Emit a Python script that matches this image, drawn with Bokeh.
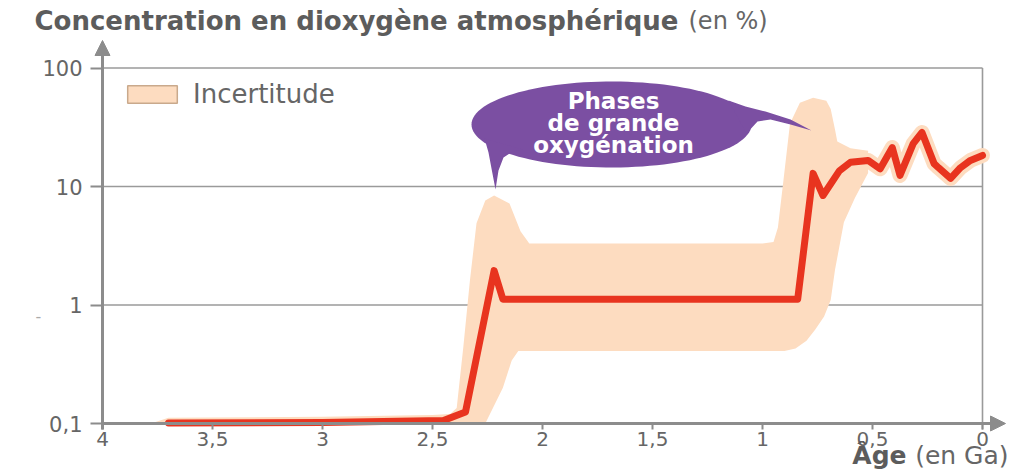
import numpy as np
from bokeh.plotting import figure
from bokeh.models import (Range1d, FixedTicker, CustomJSTickFormatter, Label, Arrow,
                          NormalHead, Legend, LegendItem)
from bokeh.embed import file_html
from bokeh.resources import INLINE

# ---------------- data ----------------
x_ticks = [4, 3.5, 3, 2.5, 2, 1.5, 1, 0.5, 0]
y_ticks = [0.1, 1, 10, 100]

age_ga = [3.7, 3.0, 2.45, 2.35, 2.22, 2.18, 0.84, 0.77, 0.725, 0.65, 0.60, 0.52,
          0.465, 0.41, 0.375, 0.315, 0.275, 0.22, 0.20, 0.145, 0.10, 0.055, 0.0]
o2_pct = [0.101, 0.102, 0.106, 0.125, 1.95, 1.12, 1.12, 12.9, 8.4, 13.6, 16.0, 16.6,
          14.1, 21.3, 12.4, 23.0, 28.6, 15.6, 14.4, 11.7, 14.4, 16.6, 18.3]

band_upper_age = [3.78, 3.7, 3.0, 2.5, 2.42, 2.39, 2.36, 2.33, 2.30, 2.26, 2.22, 2.15,
                  2.10, 2.06, 1.0, 0.95, 0.93, 0.905, 0.875, 0.83, 0.77, 0.71, 0.69,
                  0.67, 0.66, 0.60, 0.52]
band_upper_pct = [0.1, 0.112, 0.114, 0.118, 0.12, 0.135, 0.44, 1.6, 4.9, 7.6, 8.4, 7.2,
                  4.2, 3.3, 3.3, 3.4, 4.5, 11.2, 34, 51, 56, 53, 45,
                  30, 24, 21, 20]
band_lower_age = [2.26, 2.18, 2.14, 2.11, 0.90, 0.85, 0.80, 0.76, 0.72, 0.69, 0.67,
                  0.63, 0.58, 0.52]
band_lower_pct = [0.1, 0.2, 0.34, 0.41, 0.41, 0.43, 0.5, 0.62, 0.8, 1.1, 2.0,
                  5.0, 8.0, 13.0]

# ---------------- style ----------------
BAND = "#fddcc0"
RED = "#e8341f"
GREY = "#8c8c8c"
TXT = "#666666"
DARK = "#5c5c5c"
PURPLE = "#7b4fa2"
FONT = "DejaVu Sans"

W, H = 1010, 470
X0_PX, PX_PER_GA = 982, 220.0       # page x of age 0, pixels per Ga
Y01_PX, PX_PER_DEC = 423, 118.5     # page y of 0.1 %, pixels per decade

def gx(px):
    return (X0_PX - px) / PX_PER_GA

def gy(py):
    return 10 ** ((Y01_PX - py) / PX_PER_DEC - 1)

p = figure(width=W, height=H,
           x_range=Range1d(gx(0), gx(W)), y_range=Range1d(gy(H), gy(0)),
           y_axis_type="log", output_backend="svg", toolbar_location=None,
           min_border=0)
p.outline_line_color = None
p.xgrid.visible = False
p.ygrid.visible = False

# grid lines (at the y ticks) and right border at age 0
gl = y_ticks[1:]
p.segment(x0=[x_ticks[0]] * len(gl), y0=gl, x1=[x_ticks[-1]] * len(gl), y1=gl,
          line_color="#9a9a9a", line_width=1.6)
p.segment(x0=[x_ticks[-1]], y0=[gy(429)], x1=[x_ticks[-1]], y1=[y_ticks[-1]],
          line_color="#9a9a9a", line_width=1.6)

# uncertainty band
bx = band_upper_age + band_lower_age[::-1]
by = band_upper_pct + band_lower_pct[::-1]
p.patch(bx, by, fill_color=BAND, line_color=None)
k = age_ga.index(0.725)
p.line(age_ga[k:], o2_pct[k:], line_color=BAND, line_width=15, line_join="round",
       line_cap="round")
p.line(age_ga, o2_pct, line_color=RED, line_width=7, line_join="round", line_cap="round")

# legend
dummy = p.quad(left=[np.nan], right=[np.nan], top=[np.nan], bottom=[np.nan],
               fill_color=BAND, line_color="#c9a98c", line_width=1.5)
legend = Legend(items=[LegendItem(label="Incertitude", renderers=[dummy])],
                location=(121, H - 109), glyph_width=62, glyph_height=22,
                label_standoff=10, padding=0, margin=0, spacing=0,
                border_line_color=None, background_fill_alpha=0,
                label_text_font=FONT, label_text_font_size="26px",
                label_text_color=TXT)
p.add_layout(legend)

# axes placed at fixed data locations inside the frame
p.xaxis.fixed_location = y_ticks[0]
p.yaxis.fixed_location = x_ticks[0]
for ax in (p.xaxis[0], p.yaxis[0]):
    ax.axis_line_color = None
    ax.major_tick_line_color = GREY
    ax.major_tick_line_width = 2
    ax.major_tick_in = 0
    ax.minor_tick_line_color = None
    ax.major_label_text_font = FONT
    ax.major_label_text_color = TXT
    ax.formatter = CustomJSTickFormatter(code="return String(tick).replace('.', ',');")
p.xaxis.major_label_text_font_size = "20px"
p.yaxis.major_label_text_font_size = "21px"
p.xaxis.ticker = FixedTicker(ticks=x_ticks)
p.yaxis.ticker = FixedTicker(ticks=y_ticks)
p.xaxis.major_tick_out = 6
p.xaxis.major_label_standoff = 2
p.yaxis.major_tick_out = 12
p.yaxis.major_label_standoff = 8

# axis lines with arrow heads
p.add_layout(Arrow(end=NormalHead(size=15, fill_color=GREY, line_color=GREY),
                   x_start=x_ticks[0], y_start=y_ticks[0], x_end=gx(1005), y_end=y_ticks[0],
                   line_color=GREY, line_width=3))
p.add_layout(Arrow(end=NormalHead(size=15, fill_color=GREY, line_color=GREY),
                   x_start=x_ticks[0], y_start=gy(429), x_end=x_ticks[0], y_end=gy(40),
                   line_color=GREY, line_width=3))

# speech bubble
cx, cly, a, b = gx(611), np.log10(gy(124)), 140 / PX_PER_GA, 43 / PX_PER_DEC
t = np.linspace(0, 2 * np.pi, 120)
p.patch(cx + a * np.cos(t), 10 ** (cly + b * np.sin(t)), fill_color=PURPLE, line_color=None)
lt = [(484, 138), (488, 152), (491, 168), (495, 189), (498, 170), (503, 157), (512, 151),
      (522, 149)]
rt = [(728, 100), (745, 106), (765, 111), (790, 119), (811, 130), (790, 124), (770, 119),
      (757, 121), (746, 133)]
for tail in (lt, rt):
    p.patch([gx(q[0]) for q in tail], [gy(q[1]) for q in tail], fill_color=PURPLE,
            line_color=None)
for txt, py in (("Phases", 100), ("de grande", 122), ("oxygénation", 144)):
    p.add_layout(Label(x=gx(613), y=gy(py), text=txt, text_align="center",
                       text_baseline="middle", text_font=FONT, text_font_style="bold",
                       text_font_size="23px", text_color="white"))

# other texts
def tlabel(px, py, text, **kw):
    p.add_layout(Label(x=gx(px), y=gy(py), text=text, text_baseline="middle",
                       text_font=FONT, **kw))

tlabel(34, 20, "Concentration en dioxygène atmosphérique", text_font_style="bold",
       text_font_size="26px", text_color=DARK)
tlabel(688, 20, "(en %)", text_font_size="24px", text_color=TXT)
tlabel(1008, 455, "(en Ga)", text_align="right", text_font_size="25px", text_color=TXT)
tlabel(906, 455, "Âge", text_align="right", text_font_style="bold",
       text_font_size="25px", text_color=DARK)
tlabel(38, 315, "-", text_align="center", text_font_size="16px", text_color="#aaaaaa")

open("out.html", "w").write(file_html(p, INLINE))
